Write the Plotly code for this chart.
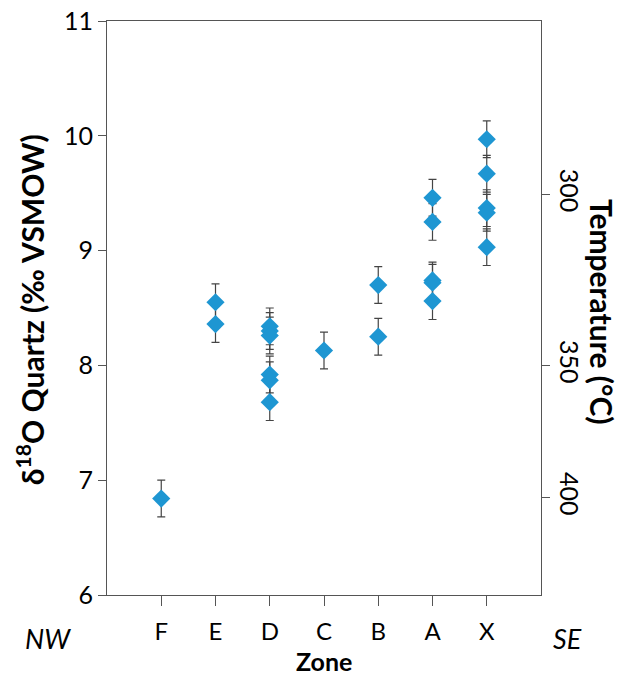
import plotly.graph_objects as go

zones = ["F", "E", "D", "C", "B", "A", "X"]
d18o_F = [6.84]
d18o_E = [8.55, 8.36]
d18o_D = [8.34, 8.30, 8.26, 7.92, 7.87, 7.68]
d18o_C = [8.13]
d18o_B = [8.70, 8.25]
d18o_A = [9.46, 9.25, 8.74, 8.72, 8.56]
d18o_X = [9.97, 9.67, 9.37, 9.33, 9.03]
err = 0.16
temp_labels = ["300", "350", "400"]
temp_pos = [9.49, 8.0, 6.85]

groups = [d18o_F, d18o_E, d18o_D, d18o_C, d18o_B, d18o_A, d18o_X]
xs, ys = [], []
for i, g in enumerate(groups):
    for v in g:
        xs.append(i + 1)
        ys.append(v)

FONT = "Lato"
fig = go.Figure()
fig.add_trace(go.Scatter(
    x=xs, y=ys, mode="markers",
    marker=dict(symbol="diamond", size=14, color="#1e96d2"),
    error_y=dict(type="constant", value=err, color="#444444", thickness=1.2, width=4),
    showlegend=False,
))
# invisible trace for right axis
fig.add_trace(go.Scatter(x=[0], y=[6], yaxis="y2", mode="markers",
                         marker=dict(opacity=0), showlegend=False, hoverinfo="skip"))

fig.update_layout(
    width=621, height=676,
    margin=dict(l=107, r=80, t=21, b=81),
    plot_bgcolor="white", paper_bgcolor="white",
    font=dict(family=FONT, color="black"),
    xaxis=dict(range=[0, 8], tickvals=list(range(1, 8)), ticktext=zones,
               showgrid=False, zeroline=False, showline=True, linecolor="#555555",
               linewidth=1.2, mirror=True, ticks="outside", ticklen=10,
               tickcolor="#555555", tickfont=dict(size=24, family=FONT),
               ticklabelstandoff=5, automargin=False),
    yaxis=dict(range=[6, 11], tickvals=[6, 7, 8, 9, 10, 11], showgrid=False,
               zeroline=False, showline=True, linecolor="#555555", linewidth=1.2,
               ticks="outside", ticklen=8, tickcolor="#555555",
               tickfont=dict(size=25, family=FONT), automargin=False),
    yaxis2=dict(range=[6, 11], overlaying="y", side="right", tickvals=temp_pos,
                ticktext=temp_labels, tickangle=90, showgrid=False, zeroline=False,
                showline=True, linecolor="#555555", linewidth=1.2, ticks="outside",
                ticklen=8, tickcolor="#555555", tickfont=dict(size=25, family=FONT),
                automargin=False),
)

fig.add_annotation(text="δ<sup>18</sup>O Quartz (‰ VSMOW)", xref="paper", yref="paper",
                   x=-0.177, y=0.4965, textangle=-90, showarrow=False,
                   xanchor="center", yanchor="middle",
                   font=dict(size=30, family=FONT, color="black", weight="bold"))
fig.add_annotation(text="Temperature (°C)", xref="paper", yref="paper",
                   x=1.1406, y=0.493, textangle=90, showarrow=False,
                   xanchor="center", yanchor="middle",
                   font=dict(size=30, family=FONT, color="black", weight="bold"))
fig.add_annotation(text="Zone", xref="paper", yref="paper", x=0.5, y=-0.115,
                   showarrow=False, xanchor="center", yanchor="middle",
                   font=dict(size=25, family=FONT, color="black", weight="bold"))
fig.add_annotation(text="<i>NW</i>", xref="paper", yref="paper", x=-0.136, y=-0.075,
                   showarrow=False, xanchor="center", yanchor="middle",
                   font=dict(size=27, family=FONT, color="black"))
fig.add_annotation(text="<i>SE</i>", xref="paper", yref="paper", x=1.06, y=-0.075,
                   showarrow=False, xanchor="center", yanchor="middle",
                   font=dict(size=27, family=FONT, color="black"))

fig.write_html("out.html")
